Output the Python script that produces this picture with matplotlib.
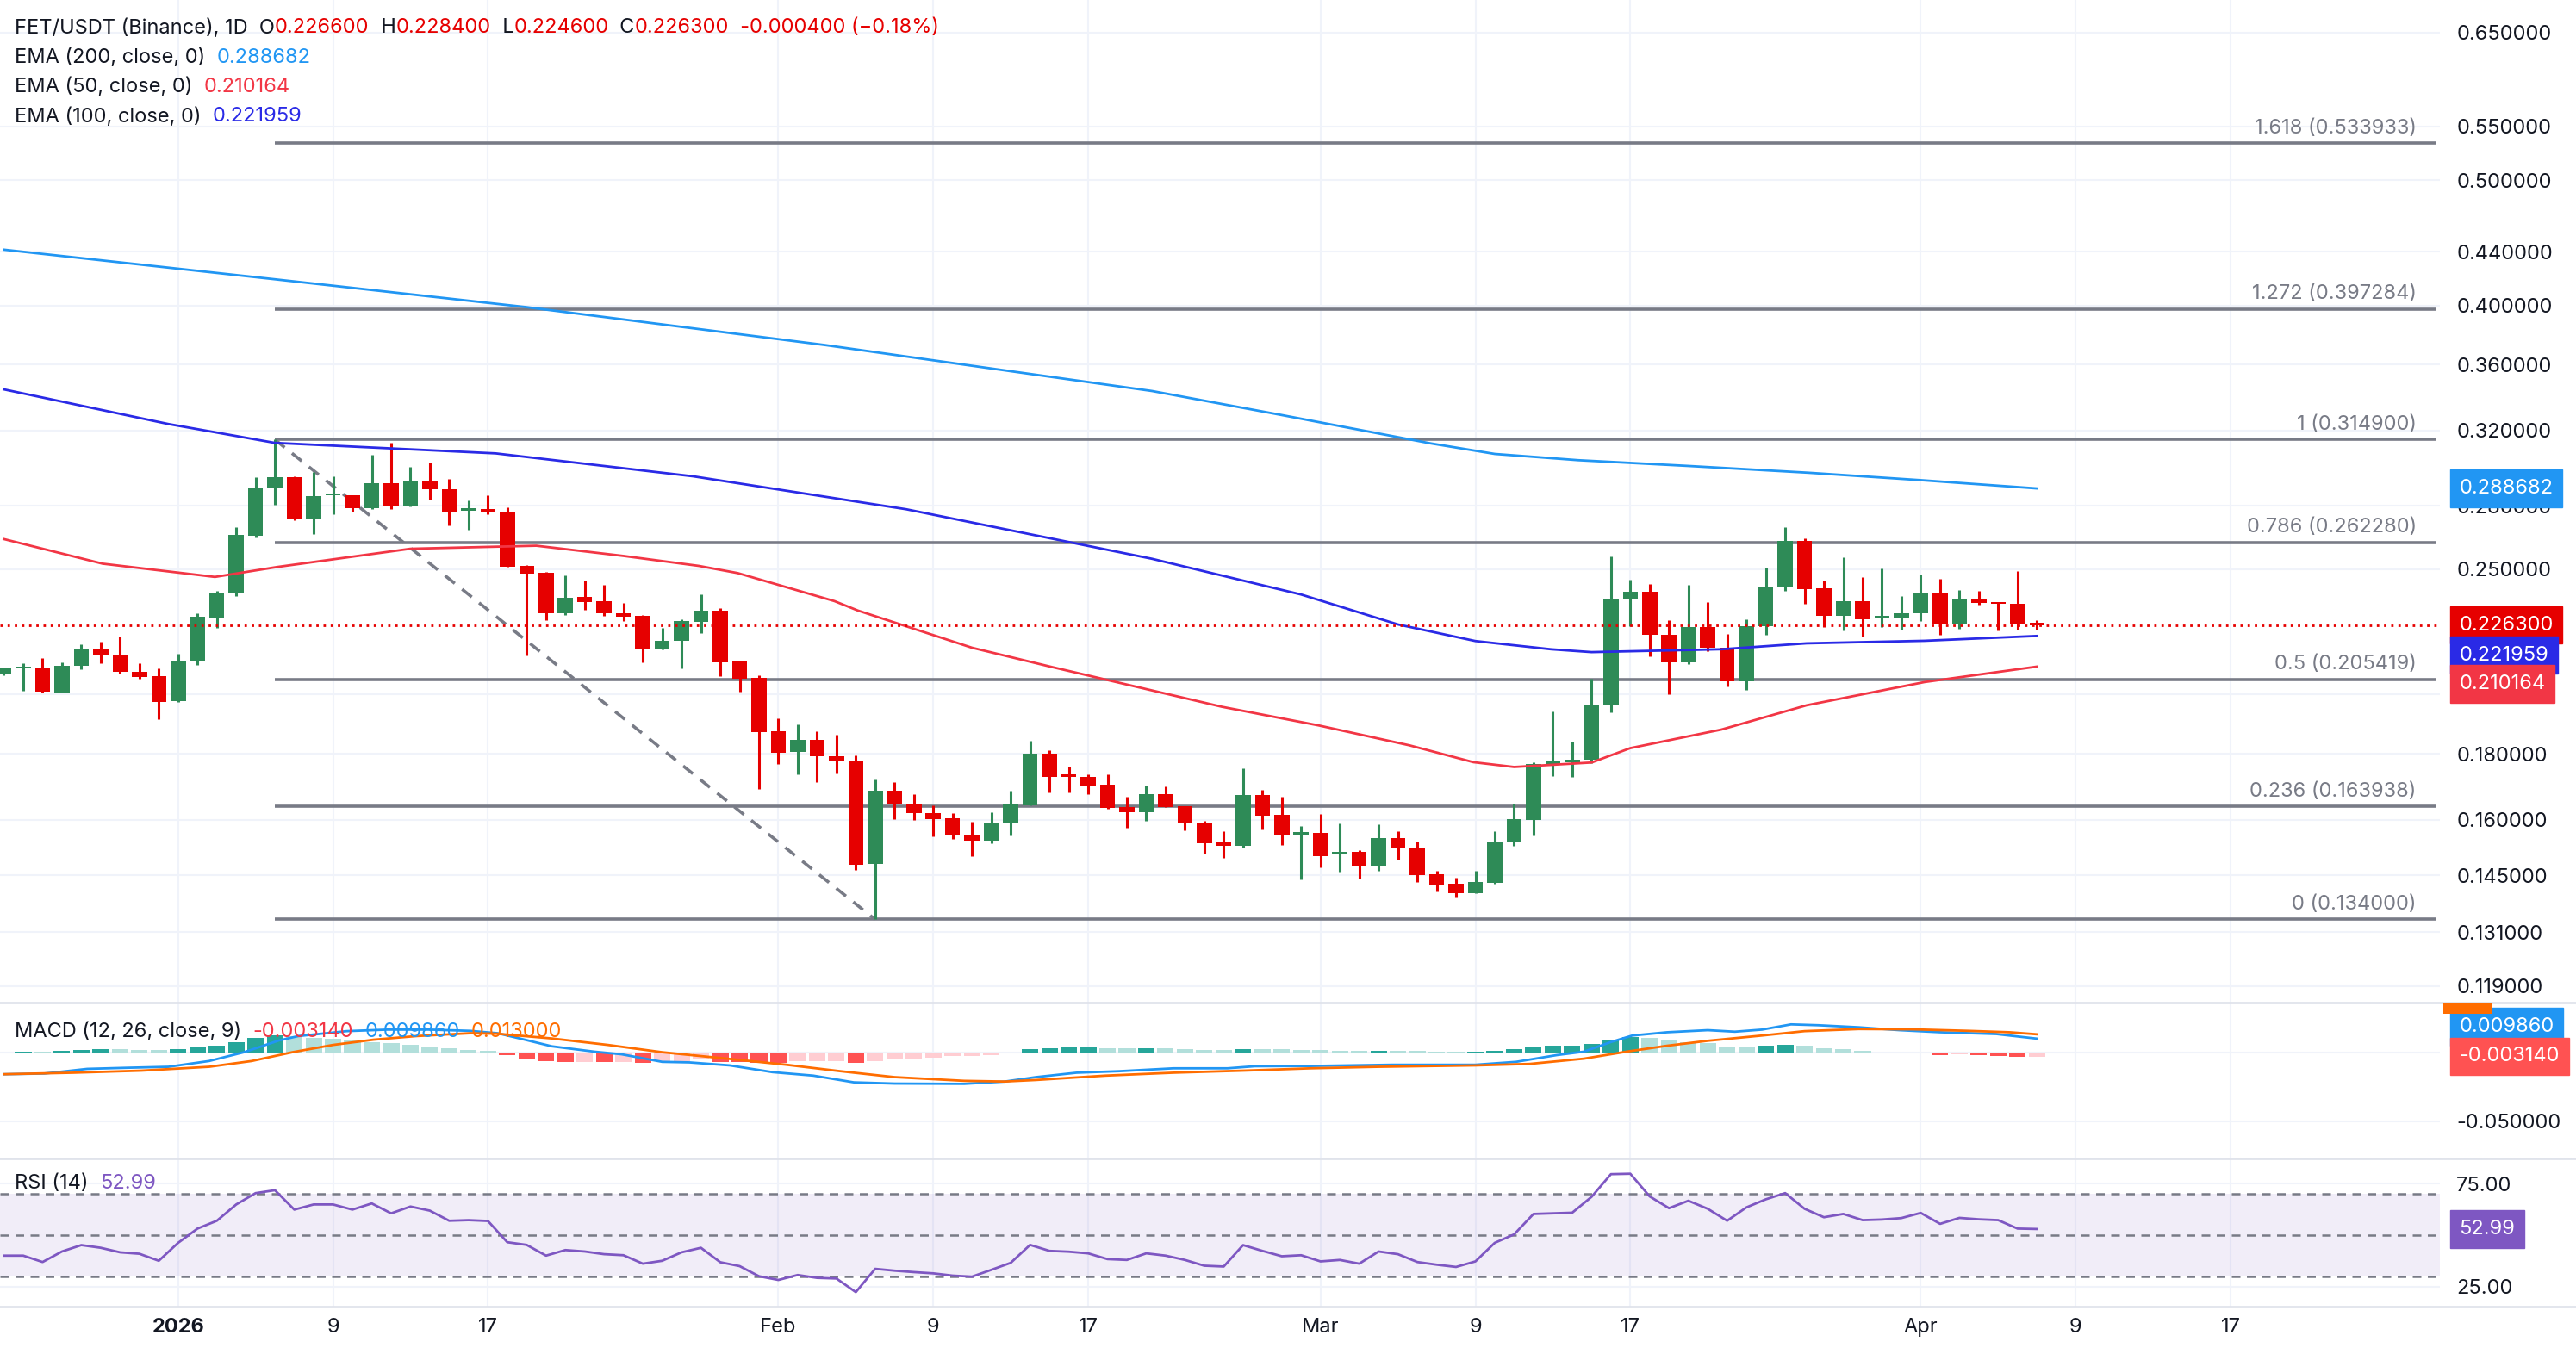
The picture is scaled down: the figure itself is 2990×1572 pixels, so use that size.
import numpy as np
import matplotlib
matplotlib.use("Agg")
import matplotlib.pyplot as plt
import matplotlib.transforms as mtransforms
from matplotlib.ticker import FixedLocator, FixedFormatter, NullLocator
from matplotlib.patches import Rectangle

plt.rcParams['font.family'] = ['Inter', 'DejaVu Sans']

# ---------------- data ----------------
days = np.arange(-9, 97)  # days relative to 2026-01-01 (Dec 23 .. Apr 7)
opens = [0.2072,0.2095,0.2097,0.2006,0.2105,0.2168,0.2146,0.2084,0.2068,0.1978,
         0.2123,0.2294,0.2394,0.2653,0.2888,0.2945,0.2735,0.2850,0.2851,0.2789,
         0.2913,0.2795,0.2925,0.2885,0.2775,0.2785,0.2770,0.2515,0.2483,0.2311,
         0.2379,0.2362,0.2313,0.2300,0.2170,0.2202,0.2277,0.2321,0.2121,0.2059,
         0.1872,0.1806,0.1845,0.1793,0.1776,0.1479,0.1686,0.1647,0.1619,0.1604,
         0.1558,0.1541,0.1590,0.1643,0.1800,0.1730,0.1728,0.1703,0.1636,0.1623,
         0.1675,0.1640,0.1591,0.1537,0.1527,0.1672,0.1614,0.1559,0.1563,0.1505,
         0.1511,0.1474,0.1550,0.1523,0.1452,0.1427,0.1404,0.1431,0.1539,0.1600,
         0.1768,0.1772,0.1780,0.1962,0.2374,0.2401,0.2226,0.2118,0.2256,0.2175,
         0.2047,0.2259,0.2420,0.2628,0.2416,0.2302,0.2360,0.2292,0.2292,0.2311,
         0.2394,0.2268,0.2372,0.2359,0.2351,0.2266]
highs = [0.2100,0.2114,0.2133,0.2119,0.2188,0.2199,0.2219,0.2114,0.2097,0.2150,
         0.2310,0.2405,0.2696,0.2945,0.3149,0.2948,0.2971,0.2948,0.2853,0.3063,
         0.3130,0.2998,0.3022,0.2935,0.2825,0.2851,0.2792,0.2518,0.2489,0.2473,
         0.2451,0.2433,0.2353,0.2306,0.2251,0.2288,0.2391,0.2332,0.2126,0.2071,
         0.1916,0.1898,0.1874,0.1862,0.1795,0.1720,0.1711,0.1675,0.1641,0.1619,
         0.1595,0.1622,0.1686,0.1842,0.1810,0.1760,0.1735,0.1735,0.1667,0.1700,
         0.1697,0.1640,0.1596,0.1568,0.1755,0.1688,0.1667,0.1582,0.1618,0.1591,
         0.1517,0.1587,0.1568,0.1540,0.1461,0.1443,0.1462,0.1568,0.1646,0.1773,
         0.1940,0.1840,0.2058,0.2559,0.2453,0.2436,0.2283,0.2430,0.2359,0.2229,
         0.2287,0.2507,0.2694,0.2640,0.2451,0.2555,0.2465,0.2504,0.2384,0.2478,
         0.2456,0.2410,0.2406,0.2359,0.2493,0.2284]
lows = [0.2070,0.2013,0.2007,0.2006,0.2092,0.2115,0.2077,0.2058,0.1914,0.1975,
        0.2107,0.2251,0.2384,0.2645,0.2806,0.2728,0.2663,0.2756,0.2770,0.2782,
        0.2785,0.2795,0.2829,0.2702,0.2684,0.2756,0.2513,0.2144,0.2285,0.2306,
        0.2326,0.2300,0.2279,0.2118,0.2168,0.2096,0.2232,0.2066,0.2010,0.1690,
        0.1766,0.1734,0.1711,0.1737,0.1463,0.1340,0.1603,0.1600,0.1553,0.1547,
        0.1499,0.1534,0.1556,0.1643,0.1680,0.1680,0.1675,0.1632,0.1577,0.1597,
        0.1638,0.1570,0.1507,0.1495,0.1523,0.1573,0.1531,0.1440,0.1471,0.1459,
        0.1441,0.1462,0.1490,0.1433,0.1408,0.1394,0.1404,0.1427,0.1528,0.1557,
        0.1730,0.1726,0.1770,0.1938,0.2260,0.2141,0.2002,0.2112,0.2161,0.2030,
        0.2017,0.2224,0.2404,0.2351,0.2256,0.2240,0.2219,0.2256,0.2246,0.2279,
        0.2224,0.2250,0.2346,0.2240,0.2244,0.2246]
closes = [0.2097,0.2098,0.2010,0.2106,0.2168,0.2144,0.2081,0.2065,0.1975,0.2126,
          0.2297,0.2399,0.2659,0.2893,0.2945,0.2735,0.2846,0.2853,0.2789,0.2913,
          0.2795,0.2925,0.2884,0.2764,0.2780,0.2770,0.2513,0.2481,0.2311,0.2378,
          0.2358,0.2311,0.2297,0.2170,0.2202,0.2279,0.2321,0.2118,0.2057,0.1870,
          0.1802,0.1845,0.1792,0.1775,0.1477,0.1686,0.1647,0.1619,0.1603,0.1557,
          0.1541,0.1591,0.1645,0.1800,0.1728,0.1728,0.1701,0.1635,0.1622,0.1675,
          0.1638,0.1590,0.1535,0.1527,0.1672,0.1613,0.1556,0.1563,0.1500,0.1508,
          0.1474,0.1550,0.1521,0.1451,0.1423,0.1404,0.1433,0.1539,0.1601,0.1768,
          0.1773,0.1782,0.1962,0.2374,0.2401,0.2224,0.2118,0.2256,0.2173,0.2047,
          0.2259,0.2420,0.2628,0.2412,0.2302,0.2360,0.2288,0.2296,0.2313,0.2394,
          0.2268,0.2372,0.2356,0.2350,0.2267,0.2263]

ema200_d = [-9,5,18,33.4,44,50.3,57,64.7,68,72.3,78,84.2,90,96]
ema200_v = [0.4417,0.4190,0.3987,0.3727,0.3540,0.3434,0.3290,0.3128,0.3070,0.3036,0.3005,0.2969,0.2930,0.2887]
ema100_d = [-9,-0.5,5,16.4,26.6,37.6,50.3,58,63,67,70.9,73,79.7,84.1,90.2,96]
ema100_v = [0.3444,0.3238,0.3131,0.3073,0.2950,0.2782,0.2547,0.2390,0.2266,0.2200,0.2168,0.2157,0.2168,0.2191,0.2201,0.2220]
ema50_d = [-9,-3.9,1.9,5.1,12,18.5,23,26.9,28.9,33.9,35.1,41,45.1,53.9,58.9,63.6,66.9,69,73,75,79.7,84.1,90.2,96]
ema50_v = [0.2638,0.2525,0.2466,0.2510,0.2593,0.2607,0.2560,0.2515,0.2483,0.2362,0.2323,0.2174,0.2101,
           0.1957,0.1893,0.1827,0.1773,0.1758,0.1772,0.1818,0.1879,0.1962,0.2045,0.2102]

fib_ratios = ["1.618","1.272","1","0.786","0.5","0.236","0"]
fib_levels = [0.533933,0.397284,0.314900,0.262280,0.205419,0.163938,0.134000]
trend_d = [5, 36]
trend_v = [0.3149, 0.1340]

macd_d = [-9,-6.9,-4.7,-2.6,-0.5,1.6,3.4,5.2,6.2,8.7,10.8,13.0,15.1,16.5,17.9,19.3,21.5,22.9,25.0,26.4,28.5,
          30.7,32.8,34.9,37.0,40.6,42.7,44.3,46.4,48.6,51.4,54.2,55.6,58.5,62.7,67.0,69.1,71.2,72.6,74.0,75.1,
          76.9,79.0,80.4,81.8,83.3,84.7,86.8,88.9,91.0,93.9,96.0]
macd_v = [-0.0160,-0.0155,-0.0121,-0.0113,-0.0106,-0.0064,0.0,0.0085,0.0117,0.0153,0.0164,0.0164,0.0155,0.0138,
          0.0091,0.0043,0.0004,-0.0015,-0.0070,-0.0074,-0.0096,-0.0145,-0.0170,-0.0219,-0.0228,-0.0230,-0.0213,
          -0.0181,-0.0149,-0.0138,-0.0117,-0.0117,-0.0102,-0.0100,-0.0091,-0.0091,-0.0070,-0.0021,0.0004,0.0074,
          0.0121,0.0145,0.0160,0.0149,0.0164,0.0202,0.0196,0.0181,0.0160,0.0145,0.0132,0.00986]
signal_d = [-9,-5.4,-1.9,1.6,3.8,5.9,8.0,10.1,12.3,15.1,16.5,19.3,22.2,25.0,28.5,31.4,34.2,37.0,40.6,42.7,
            44.3,47.9,51.4,55.0,58.5,62.0,67.0,69.8,72.6,74.8,76.9,79.0,81.8,84.0,86.8,89.6,92.5,94.6,96.0]
signal_v = [-0.0160,-0.0149,-0.0134,-0.0106,-0.0064,0.0,0.0053,0.0091,0.0117,0.0138,0.0134,0.0100,0.0053,0.0,
            -0.0049,-0.0091,-0.0138,-0.0181,-0.0208,-0.0213,-0.0202,-0.0170,-0.0149,-0.0134,-0.0117,-0.0106,
            -0.0096,-0.0085,-0.0047,0.0004,0.0047,0.0083,0.0121,0.0153,0.0168,0.0166,0.0155,0.0145,0.0130]
hist_v = [-0.0004,0.0006,0.0005,0.0013,0.0017,0.0023,0.0021,0.0019,0.0017,0.0023,
          0.0038,0.0049,0.0074,0.0102,0.0121,0.0117,0.0106,0.0096,0.0085,0.0074,
          0.0064,0.0055,0.0043,0.0030,0.0017,0.0009,-0.0023,-0.0045,-0.0066,-0.0070,
          -0.0069,-0.0074,-0.0070,-0.0077,-0.0066,-0.0062,-0.0055,-0.0072,-0.0074,-0.0075,
          -0.0076,-0.0068,-0.0066,-0.0065,-0.0077,-0.0064,-0.0049,-0.0045,-0.0038,-0.0030,
          -0.0026,-0.0019,-0.0009,0.0021,0.0028,0.0034,0.0036,0.0030,0.0030,0.0031,
          0.0029,0.0021,0.0017,0.0017,0.0023,0.0023,0.0022,0.0017,0.0017,0.0011,
          0.0010,0.0011,0.0011,0.0010,0.0004,0.0004,0.0006,0.0013,0.0023,0.0036,
          0.0049,0.0050,0.0062,0.0094,0.0113,0.0106,0.0087,0.0074,0.0068,0.0043,
          0.0042,0.0049,0.0055,0.0049,0.0030,0.0023,0.0011,-0.0006,-0.0011,-0.0010,
          -0.0019,-0.0018,-0.0021,-0.0025,-0.0032,-0.00314]
rsi_v = [40.1,40.1,37.0,42.1,45.2,43.9,41.7,41.0,37.6,46.3,53.2,57.0,64.9,70.4,71.8,62.4,64.9,64.9,62.4,65.4,
         60.6,63.9,61.9,57.0,57.3,56.9,46.6,45.3,40.1,42.8,42.1,40.8,40.3,36.2,37.6,41.7,43.9,36.9,35.0,30.1,
         28.3,30.7,29.3,29.0,22.4,33.7,32.8,32.1,31.5,30.4,29.9,33.2,36.6,45.3,42.4,42.0,41.2,38.4,38.0,41.2,
         40.1,38.0,35.2,34.8,45.2,42.4,39.8,40.3,37.3,38.0,36.2,42.1,40.8,37.0,35.7,34.6,37.3,46.3,50.4,60.3,
         60.6,60.9,68.6,79.6,79.8,68.8,63.1,66.7,62.8,57.0,63.5,67.4,70.4,62.8,58.7,60.3,57.3,57.6,58.3,60.8,
         55.5,58.4,57.7,57.3,53.2,52.99]

price_ticks = [0.119,0.131,0.145,0.16,0.18,0.2,0.25,0.28,0.32,0.36,0.4,0.44,0.5,0.55,0.65]
x_tick_days = [0,8,16,31,39,47,59,67,75,90,98,106]
x_tick_labels = ["2026","9","17","Feb","9","17","Mar","9","17","Apr","9","17"]

# ---------------- style ----------------
UP = "#2e8b57"; DN = "#e60000"
GRID = "#f0f3fa"; SEP = "#e0e3eb"; TXT = "#131722"; FIB = "#787b86"
FS = 17
XL = (-9.2, 116.8)

fig = plt.figure(figsize=(29.9, 15.72), dpi=100)
R = 1485/1568
axp = fig.add_axes([0, 0.2597, R, 1-0.2597])
axm = fig.add_axes([0, 0.1444, R, 0.2597-0.1444])
axr = fig.add_axes([0, 0.0352, R, 0.1444-0.0352])

for ax in (axp, axm, axr):
    ax.set_xlim(*XL)
    for s in ax.spines.values():
        s.set_visible(False)
    ax.set_xticks(x_tick_days)
    ax.tick_params(axis='x', length=0, labelbottom=False)
    ax.grid(axis='x', color=GRID, lw=1.5)
    ax.set_axisbelow(True)
    ax.yaxis.tick_right()
    ax.tick_params(axis='y', length=0, labelsize=FS, labelcolor=TXT, pad=14)

# price panel
axp.set_yscale('log')
axp.set_ylim(0.1156, 0.689)
axp.yaxis.set_major_locator(FixedLocator(price_ticks))
axp.yaxis.set_major_formatter(FixedFormatter(["%.6f" % t for t in price_ticks]))
axp.yaxis.set_minor_locator(NullLocator())
for t in price_ticks:
    axp.axhline(t, color=GRID, lw=1.5, zorder=0)

o = np.array(opens); h = np.array(highs); l = np.array(lows); c = np.array(closes)
cols = [UP if cc >= oo else DN for oo, cc in zip(o, c)]
axp.vlines(days, l, h, colors=cols, lw=2.2, zorder=3)
bot = np.minimum(o, c); top = np.maximum(o, c)
top = np.where(top/bot < 1.004, bot*1.004, top)
axp.bar(days, top-bot, bottom=bot, width=0.78, color=cols, zorder=4, linewidth=0)

axp.plot(ema200_d, ema200_v, color="#2196f3", lw=2, zorder=5)
axp.plot(ema100_d, ema100_v, color="#2a2ae6", lw=2, zorder=5)
axp.plot(ema50_d, ema50_v, color="#f23645", lw=2, zorder=5)

for r, lv in zip(fib_ratios, fib_levels):
    axp.plot([5, 116.6], [lv, lv], color=FIB, lw=2.6, zorder=2, solid_capstyle='butt')
    axp.text(115.6, lv*1.010, f"{r} ({lv:.6f})", color=FIB, fontsize=FS, ha='right', va='bottom')
axp.plot(trend_d, trend_v, color=FIB, lw=2.6, ls=(0, (4, 3)), zorder=2)
axp.axhline(closes[-1], color=DN, lw=2, ls=(0, (1, 2)), zorder=6)

trp = mtransforms.blended_transform_factory(axp.transAxes, axp.transData)
def badge(ax, tr, y, s, col, fc="white"):
    ax.text(1.008, y, s, transform=tr, color=fc, fontsize=FS, ha='left', va='center', zorder=10,
            clip_on=False, bbox=dict(boxstyle="square,pad=0.45", fc=col, ec=col))
badge(axp, trp, 0.2887, "0.288682", "#2196f3")
badge(axp, trp, 0.2263, "0.226300", DN)
badge(axp, trp, 0.2145, "0.221959", "#2a2ae6")
badge(axp, trp, 0.2038, "0.210164", "#f23645")

# MACD panel
axm.set_ylim(-0.0772, 0.0362)
axm.set_yticks([-0.05]); axm.set_yticklabels(["-0.050000"])
axm.axhline(0, color=GRID, lw=1.5, zorder=0)
axm.axhline(-0.05, color=GRID, lw=1.5, zorder=0)
hv = np.array(hist_v)
hcols = []
for i, v in enumerate(hv):
    prev = hv[i-1] if i > 0 else 0
    if v >= 0:
        hcols.append("#26a69a" if v > prev else "#b2dfdb")
    else:
        hcols.append("#ff5252" if v < prev else "#ffcdd2")
axm.bar(days, hv, width=0.85, color=hcols, linewidth=0, zorder=2)
axm.plot(macd_d, macd_v, color="#2196f3", lw=2, zorder=3)
axm.plot(signal_d, signal_v, color="#ff6d00", lw=2, zorder=3)
trm = mtransforms.blended_transform_factory(axm.transAxes, axm.transData)
badge(axm, trm, 0.0185, "0.009860", "#2196f3")
badge(axm, trm, -0.0030, "-0.003140", "#ff5252")
fig.patches.append(Rectangle((R+0.0015, 1-617/824), 0.0190, 7/824, transform=fig.transFigure,
                             fc="#ff6d00", ec="none", zorder=10))

# RSI panel
axr.set_ylim(15.5, 87.2)
axr.set_yticks([25, 75]); axr.set_yticklabels(["25.00", "75.00"])
axr.axhline(25, color=GRID, lw=1.5, zorder=0); axr.axhline(75, color=GRID, lw=1.5, zorder=0)
axr.axhspan(30, 70, color="#7e57c2", alpha=0.1, lw=0)
for lv in (30, 50, 70):
    axr.axhline(lv, color=FIB, lw=1.8, ls=(0, (4, 3)))
axr.plot(days, rsi_v, color="#7e57c2", lw=2, zorder=3)
trr = mtransforms.blended_transform_factory(axr.transAxes, axr.transData)
badge(axr, trr, 52.99, "52.99", "#7e57c2")

# x labels
for d, s in zip(x_tick_days, x_tick_labels):
    fig.text((d-XL[0])/(XL[1]-XL[0])*R, 1-808/824, s, ha='center', va='center', fontsize=FS,
             color=TXT, fontweight='bold' if s == "2026" else 'normal')

# separators
for yy in (0.2597, 0.1444, 0.0352):
    fig.add_artist(plt.Line2D([0, 1], [yy, yy], transform=fig.transFigure, color=SEP, lw=2))

# legends
fig.canvas.draw()
rend = fig.canvas.get_renderer()
def seq(x, y, parts, gap=0.0):
    for s, col in parts:
        t = fig.text(x, y, s, color=col, fontsize=FS, ha='left', va='center')
        w = t.get_window_extent(rend).width / fig.bbox.width
        x += w + gap
seq(9/1568, 1-17/824, [("FET/USDT (Binance), 1D  O", TXT), ("0.226600", DN), ("  H", TXT), ("0.228400", DN),
                        ("  L", TXT), ("0.224600", DN), ("  C", TXT), ("0.226300", DN), ("  -0.000400 (\u22120.18%)", DN)])
seq(9/1568, 1-35/824, [("EMA (200, close, 0)  ", TXT), ("0.288682", "#2196f3")])
seq(9/1568, 1-53/824, [("EMA (50, close, 0)  ", TXT), ("0.210164", "#f23645")])
seq(9/1568, 1-71/824, [("EMA (100, close, 0)  ", TXT), ("0.221959", "#2a2ae6")])
seq(9/1568, 1-628/824, [("MACD (12, 26, close, 9)  ", TXT), ("-0.003140", "#f23645"), ("  ", TXT),
                         ("0.009860", "#2196f3"), ("  ", TXT), ("0.013000", "#ff6d00")])
seq(9/1568, 1-720/824, [("RSI (14)  ", TXT), ("52.99", "#7e57c2")])

fig.savefig("out.png", dpi=100, facecolor="white")
